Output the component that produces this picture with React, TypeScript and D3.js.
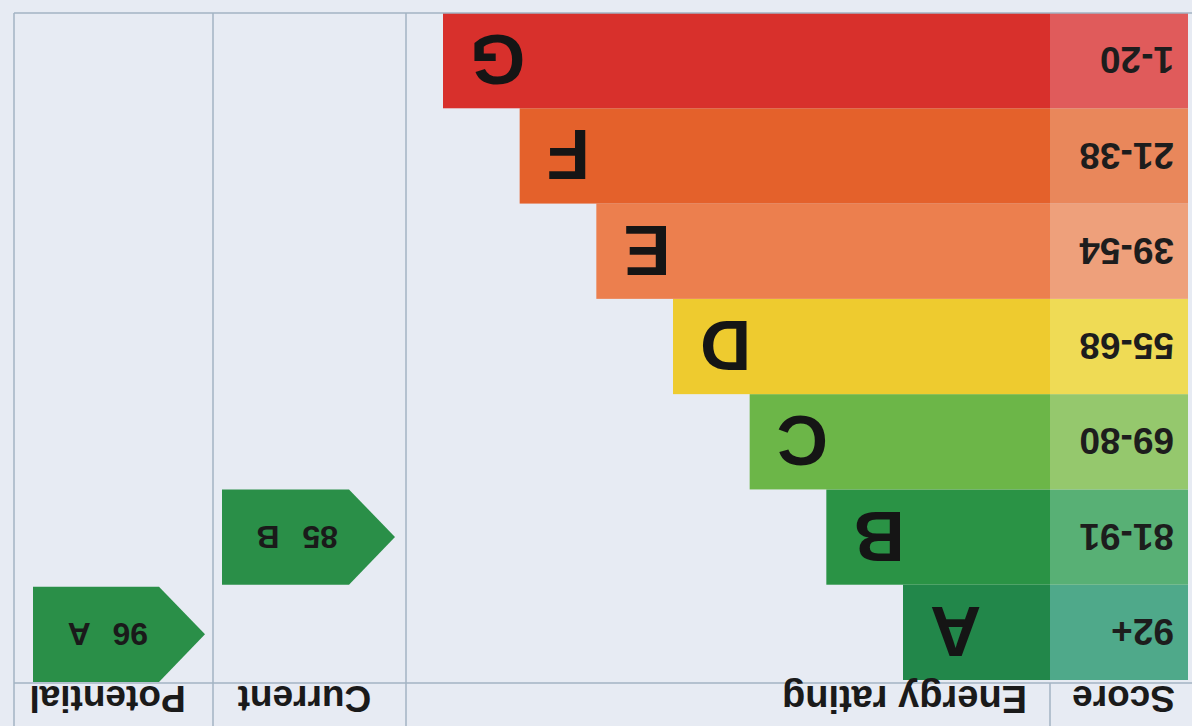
import * as d3 from "d3";

// EPC energy rating chart (photo is upside down, so the whole drawing is rotated 180deg)
const bands = ["A", "B", "C", "D", "E", "F", "G"];
const scoreRanges = ["92+", "81-91", "69-80", "55-68", "39-54", "21-38", "1-20"];
const barColors = ["#22874a", "#2a9345", "#6cb648", "#eecb2f", "#ec7f4e", "#e4612b", "#d8302c"];
const scoreColors = ["#4fa98a", "#58b075", "#95c86d", "#efdb55", "#eea07b", "#e9875b", "#e05b5b"];
const headers = ["Score", "Energy rating", "Current", "Potential"];

const currentScore = 85;
const currentBand = "B";
const potentialScore = 96;
const potentialBand = "A";

const W = 1192;
const H = 726;

export default function App() {
  const font = "'Liberation Sans', Arial, sans-serif";

  // layout in the chart's own (upright) frame
  const headerH = 43;
  const scoreX0 = 4;
  const barX0 = 142;
  const currentX0 = 786;
  const potentialX0 = 979;
  const tableRight = 1178;

  const y = d3.scaleBand<string>().domain(bands).range([46, 713]).paddingInner(0);
  // bar length grows one step per band
  const barLen = d3.scaleLinear().domain([0, bands.length - 1]).range([147, 607]);

  const arrow = (tip: number, end: number, y0: number, h: number) => {
    const p = d3.path();
    p.moveTo(tip, y0 + h / 2);
    p.lineTo(tip + 46, y0);
    p.lineTo(end, y0);
    p.lineTo(end, y0 + h);
    p.lineTo(tip + 46, y0 + h);
    p.closePath();
    return p.toString();
  };

  const lineColor = "#a3b3c3";
  const rows = bands.map((b, i) => ({ b, i, score: scoreRanges[i] }));

  return (
    <svg
      width={W}
      height={H}
      style={{ position: "fixed", left: 0, top: 0, background: "#e7ebf3" }}
    >
      <rect x={0} y={0} width={W} height={H} fill="#e7ebf3" />
      <g transform={`rotate(180, ${W / 2}, ${H / 2})`} fontFamily={font} fontWeight="bold">
        {/* rows */}
        {rows.map(({ b, i, score }) => (
          <g key={b}>
            <rect
              x={scoreX0}
              y={y(b)}
              width={barX0 - scoreX0}
              height={y.bandwidth()}
              fill={scoreColors[i]}
            />
            <rect x={barX0} y={y(b)} width={barLen(i)} height={y.bandwidth()} fill={barColors[i]} />
            <text
              x={18}
              y={(y(b) as number) + y.bandwidth() / 2}
              dy="0.36em"
              fontSize={37}
              fill="#1d1d1d"
            >
              {score}
            </text>
            <text
              x={barX0 + barLen(i) - 27}
              y={(y(b) as number) + y.bandwidth() / 2}
              dy="0.36em"
              fontSize={71}
              textAnchor="end"
              fill="#151515"
            >
              {b}
            </text>
          </g>
        ))}

        {/* current / potential arrows */}
        <path
          d={arrow(currentX0 + 11, potentialX0 - 9, y(currentBand) as number, y.bandwidth())}
          fill="#2a8f48"
        />
        <text
          x={currentX0 + 68}
          y={(y(currentBand) as number) + y.bandwidth() / 2}
          dy="0.36em"
          fontSize={32}
          wordSpacing={14}
          fill="#1a1a1a"
        >
          {`${currentScore} ${currentBand}`}
        </text>
        <path
          d={arrow(potentialX0 + 8, tableRight - 19, (y(potentialBand) as number) - 2, y.bandwidth())}
          fill="#2a8f48"
        />
        <text
          x={potentialX0 + 65}
          y={(y(potentialBand) as number) + y.bandwidth() / 2 - 2}
          dy="0.36em"
          fontSize={32}
          wordSpacing={14}
          fill="#1a1a1a"
        >
          {`${potentialScore} ${potentialBand}`}
        </text>

        {/* grid lines */}
        <line x1={0} x2={tableRight} y1={713} y2={713} stroke={lineColor} strokeWidth={1.5} />
        <line x1={0} x2={tableRight} y1={headerH} y2={headerH} stroke={lineColor} strokeWidth={1.5} />
        {[currentX0, potentialX0, tableRight].map((x) => (
          <line key={x} x1={x} x2={x} y1={0} y2={713} stroke={lineColor} strokeWidth={1.5} />
        ))}
        <line x1={barX0} x2={barX0} y1={0} y2={headerH} stroke={lineColor} strokeWidth={1.5} />

        {/* headers */}
        <text x={17} y={40} fontSize={37} fill="#1a1a1a">
          {headers[0]}
        </text>
        <text x={165} y={40} fontSize={38} fill="#1a1a1a">
          {headers[1]}
        </text>
        <text x={(currentX0 + potentialX0) / 2 + 5} y={40} fontSize={37} textAnchor="middle" fill="#1a1a1a">
          {headers[2]}
        </text>
        <text x={(potentialX0 + tableRight) / 2 + 6} y={40} fontSize={37} textAnchor="middle" fill="#1a1a1a">
          {headers[3]}
        </text>
      </g>
    </svg>
  );
}
